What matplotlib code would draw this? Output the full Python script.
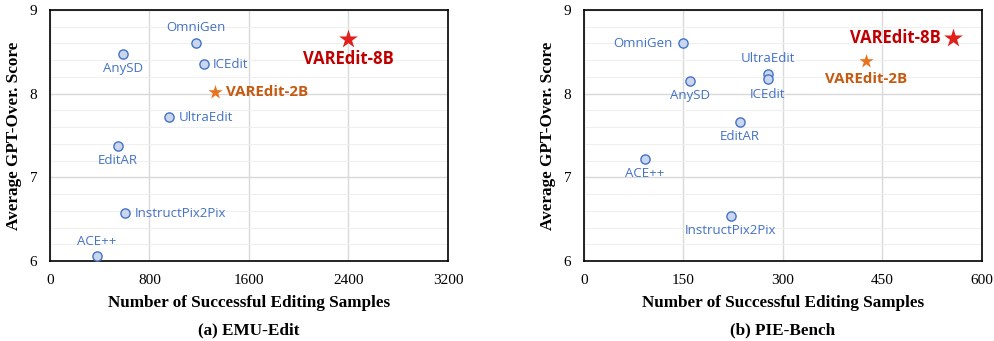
import matplotlib.pyplot as plt
from matplotlib.ticker import MultipleLocator

# EMU-Edit
emu_names = ["OmniGen", "AnySD", "ICEdit", "UltraEdit", "EditAR", "InstructPix2Pix", "ACE++"]
emu_x = [1171, 590, 1241, 957, 544, 606, 375]
emu_y = [8.60, 8.48, 8.35, 7.72, 7.38, 6.57, 6.06]
emu_ours_x = [1327, 2399]
emu_ours_y = [8.02, 8.65]

# PIE-Bench
pie_names = ["OmniGen", "AnySD", "UltraEdit", "ICEdit", "EditAR", "ACE++", "InstructPix2Pix"]
pie_x = [150, 160, 278, 277, 235, 92, 221]
pie_y = [8.60, 8.15, 8.23, 8.17, 7.66, 7.22, 6.54]
pie_ours_x = [425, 557]
pie_ours_y = [8.39, 8.67]

ours_names = ["VAREdit-2B", "VAREdit-8B"]

# label placement (offset in points, ha, va)
emu_pos = {
    "OmniGen": ((0, 7), "center", "bottom"),
    "AnySD": ((0, -6), "center", "top"),
    "ICEdit": ((6, 0), "left", "center"),
    "UltraEdit": ((7, 0), "left", "center"),
    "EditAR": ((0, -6), "center", "top"),
    "InstructPix2Pix": ((7, 0), "left", "center"),
    "ACE++": ((0, 6), "center", "bottom"),
    "VAREdit-2B": ((8, 0), "left", "center"),
    "VAREdit-8B": ((0, -8), "center", "top"),
}
pie_pos = {
    "OmniGen": ((-8, 0), "right", "center"),
    "AnySD": ((0, -6), "center", "top"),
    "UltraEdit": ((0, 7), "center", "bottom"),
    "ICEdit": ((0, -6), "center", "top"),
    "EditAR": ((0, -6), "center", "top"),
    "ACE++": ((0, -6), "center", "top"),
    "InstructPix2Pix": ((0, -6), "center", "top"),
    "VAREdit-2B": ((0, -8), "center", "top"),
    "VAREdit-8B": ((-9, 0), "right", "center"),
}

blue = "#4472C4"
red = "#C00000"
orange = "#C55A11"
serif = "Liberation Serif"
sans = "Open Sans"

fig = plt.figure(figsize=(9.94, 3.41), dpi=100)
ax1 = fig.add_axes([0.0503, 0.2346, 0.4004, 0.736])
ax2 = fig.add_axes([0.5875, 0.2346, 0.4004, 0.736])


def draw(ax, names, xs, ys, ox, oy, pos, xmax, xstep, title):
    ax.scatter(xs, ys, s=44, facecolor="#C9D6EE", edgecolor=blue, linewidth=1.0, zorder=3)
    ax.scatter(ox[0], oy[0], marker="*", s=115, color="#E8731E", zorder=3, linewidth=0)
    ax.scatter(ox[1], oy[1], marker="*", s=200, color="#E0201A", zorder=3, linewidth=0)
    for n, x, y in zip(names, xs, ys):
        off, ha, va = pos[n]
        ax.annotate(n, (x, y), xytext=off, textcoords="offset points", ha=ha, va=va,
                    color=blue, fontsize=9.5, family=sans)
    for n, x, y, c in zip(ours_names, ox, oy, [orange, red]):
        off, ha, va = pos[n]
        ax.annotate(n, (x, y), xytext=off, textcoords="offset points", ha=ha, va=va,
                    color=c, fontsize=10.8 if c == orange else 12, family=sans, weight="bold")
    ax.set_xlim(0, xmax)
    ax.set_ylim(6, 9)
    ax.xaxis.set_major_locator(MultipleLocator(xstep))
    ax.yaxis.set_major_locator(MultipleLocator(1))
    ax.yaxis.set_minor_locator(MultipleLocator(0.2))
    ax.grid(True, which="major", color="#D9D9D9", linewidth=1.0)
    ax.grid(True, which="minor", axis="y", color="#EFEFEF", linewidth=0.8)
    ax.set_axisbelow(True)
    ax.tick_params(which="both", length=0, labelsize=11, pad=9)
    for lab in ax.get_xticklabels() + ax.get_yticklabels():
        lab.set_family(serif)
    for s in ax.spines.values():
        s.set_linewidth(1.2)
        s.set_color("black")
    ax.set_xlabel("Number of Successful Editing Samples", family=serif, weight="bold",
                  fontsize=12.3, labelpad=6)
    ax.set_ylabel("Average GPT-Over. Score", family=serif, weight="bold", fontsize=12.3,
                  labelpad=6)
    ax.text(0.5, -0.275, title, transform=ax.transAxes, ha="center", va="center",
            family=serif, weight="bold", fontsize=12.3)


draw(ax1, emu_names, emu_x, emu_y, emu_ours_x, emu_ours_y, emu_pos, 3200, 800, "(a) EMU-Edit")
draw(ax2, pie_names, pie_x, pie_y, pie_ours_x, pie_ours_y, pie_pos, 600, 150, "(b) PIE-Bench")

fig.savefig("out.png", dpi=100)
